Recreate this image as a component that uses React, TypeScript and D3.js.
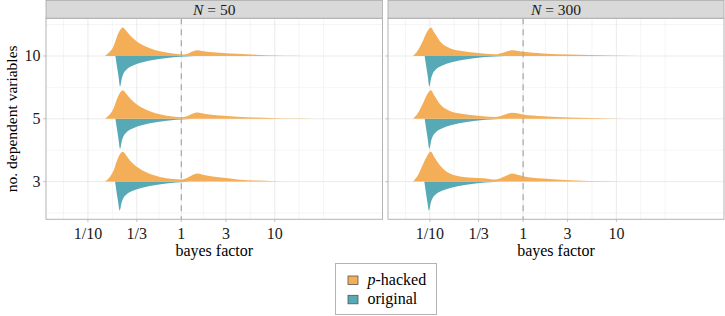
import React from "react";
import * as d3 from "d3";

// ---------- data ----------
const panels = ["50", "300"];
const levels = ["3", "5", "10"]; // bottom -> top
const xTickValues = [0.1, 1 / 3, 1, 3, 10];
const xTickLabels = ["1/10", "1/3", "1", "3", "10"];
const groups = ["p-hacked", "original"];

// density curves: [log10(bayes factor), density]
const n50_dv10_phacked: [number, number][] = [[-0.82,0],[-0.77,0.4],[-0.73,0.9],[-0.69,1.9],[-0.655,2.6],[-0.625,2.84],[-0.59,2.5],[-0.55,2.07],[-0.48,1.47],[-0.37,0.9],[-0.23,0.47],[-0.09,0.24],[0,0.15],[0.06,0.2],[0.12,0.45],[0.17,0.57],[0.22,0.5],[0.3,0.4],[0.45,0.3],[0.6,0.22],[0.8,0.13],[1.0,0.06],[1.2,0.03],[1.4,0]];
const n50_dv10_original: [number, number][] = [[-0.706,0],[-0.69,1.0],[-0.673,2.0],[-0.656,3.03],[-0.636,2.2],[-0.616,1.7],[-0.586,1.35],[-0.516,0.95],[-0.426,0.65],[-0.336,0.45],[-0.236,0.3],[-0.156,0.2],[-0.056,0.1],[0.044,0.04],[0.14,0]];
const n50_dv5_phacked: [number, number][] = [[-0.82,0],[-0.77,0.4],[-0.73,0.95],[-0.69,1.95],[-0.655,2.62],[-0.625,2.85],[-0.59,2.5],[-0.55,2.05],[-0.48,1.45],[-0.37,0.88],[-0.23,0.45],[-0.09,0.22],[0,0.16],[0.06,0.25],[0.12,0.5],[0.17,0.62],[0.22,0.55],[0.3,0.42],[0.45,0.3],[0.6,0.2],[0.8,0.12],[1.0,0.06],[1.2,0.02],[1.4,0]];
const n50_dv5_original: [number, number][] = [[-0.706,0],[-0.69,1.0],[-0.673,2.0],[-0.656,2.98],[-0.636,2.15],[-0.616,1.68],[-0.586,1.33],[-0.516,0.94],[-0.426,0.64],[-0.336,0.44],[-0.236,0.29],[-0.156,0.19],[-0.056,0.1],[0.044,0.04],[0.14,0]];
const n50_dv3_phacked: [number, number][] = [[-0.82,0],[-0.77,0.42],[-0.73,1.0],[-0.69,2.05],[-0.655,2.75],[-0.625,2.96],[-0.59,2.6],[-0.55,2.1],[-0.48,1.5],[-0.37,0.9],[-0.23,0.47],[-0.09,0.25],[0,0.2],[0.06,0.35],[0.12,0.65],[0.17,0.8],[0.22,0.72],[0.3,0.55],[0.45,0.38],[0.6,0.22],[0.8,0.1],[1.0,0.04],[1.2,0.01],[1.35,0]];
const n50_dv3_original: [number, number][] = [[-0.71,0],[-0.694,1.0],[-0.677,2.0],[-0.66,2.87],[-0.64,2.1],[-0.62,1.62],[-0.59,1.3],[-0.52,0.92],[-0.43,0.63],[-0.34,0.43],[-0.24,0.28],[-0.16,0.18],[-0.06,0.09],[0.04,0.03],[0.14,0]];

const n300_dv10_phacked: [number, number][] = [[-1.18,0],[-1.13,0.55],[-1.07,1.6],[-1.03,2.4],[-0.99,2.84],[-0.95,2.3],[-0.89,1.45],[-0.785,0.78],[-0.64,0.47],[-0.43,0.26],[-0.3,0.17],[-0.2,0.38],[-0.12,0.57],[-0.05,0.5],[0,0.42],[0.21,0.26],[0.5,0.14],[0.93,0.04],[1.25,0]];
const n300_dv10_original: [number, number][] = [[-1.056,0],[-1.04,1.0],[-1.023,2.0],[-1.006,3.03],[-0.986,2.2],[-0.966,1.7],[-0.936,1.35],[-0.866,0.95],[-0.776,0.65],[-0.686,0.45],[-0.586,0.3],[-0.506,0.2],[-0.406,0.1],[-0.306,0.04],[-0.2,0]];
const n300_dv5_phacked: [number, number][] = [[-1.18,0],[-1.13,0.55],[-1.07,1.62],[-1.03,2.42],[-0.99,2.85],[-0.95,2.3],[-0.89,1.45],[-0.785,0.78],[-0.64,0.47],[-0.43,0.26],[-0.3,0.18],[-0.2,0.4],[-0.12,0.6],[-0.05,0.52],[0,0.43],[0.21,0.26],[0.5,0.14],[0.93,0.04],[1.25,0]];
const n300_dv5_original: [number, number][] = [[-1.056,0],[-1.04,1.0],[-1.023,2.0],[-1.006,2.98],[-0.986,2.15],[-0.966,1.68],[-0.936,1.33],[-0.866,0.94],[-0.776,0.64],[-0.686,0.44],[-0.586,0.29],[-0.506,0.19],[-0.406,0.1],[-0.306,0.04],[-0.2,0]];
const n300_dv3_phacked: [number, number][] = [[-1.18,0],[-1.13,0.6],[-1.07,1.8],[-1.03,2.55],[-0.99,2.96],[-0.95,2.4],[-0.89,1.6],[-0.785,0.8],[-0.64,0.46],[-0.43,0.33],[-0.3,0.2],[-0.2,0.5],[-0.12,0.8],[-0.05,0.65],[0,0.53],[0.21,0.3],[0.5,0.14],[0.93,0.03],[1.2,0]];
const n300_dv3_original: [number, number][] = [[-1.06,0],[-1.044,1.0],[-1.027,2.0],[-1.01,2.87],[-0.99,2.1],[-0.97,1.62],[-0.94,1.3],[-0.87,0.92],[-0.78,0.63],[-0.69,0.43],[-0.59,0.28],[-0.51,0.18],[-0.41,0.09],[-0.31,0.03],[-0.2,0]];

const curves: Record<string, Record<string, [[number, number][], [number, number][]]>> = {
  "50": { "10": [n50_dv10_phacked, n50_dv10_original], "5": [n50_dv5_phacked, n50_dv5_original], "3": [n50_dv3_phacked, n50_dv3_original] },
  "300": { "10": [n300_dv10_phacked, n300_dv10_original], "5": [n300_dv5_phacked, n300_dv5_original], "3": [n300_dv3_phacked, n300_dv3_original] },
};

// ---------- layout ----------
const W = 725, H = 316;
const FONT = "'Liberation Serif', 'Times New Roman', Times, serif";
const COL_P = "#F4AE58";
const COL_O = "#58A9B6";
const panelTop = 18.3, panelBottom = 219.3;
const panelBoxes = [{ x0: 46, x1: 382.5 }, { x0: 388, x1: 724 }];
const logMin = -1.449, logMax = 2.154;

export default function App() {
  const y = d3.scaleLinear().domain([0.4, 3.6]).range([panelBottom, panelTop]);
  const unit = y(0) - y(1);
  const dens = d3.scaleLinear().domain([0, 3]).range([0, 0.48 * unit]);
  const majorLog = xTickValues.map((v) => Math.log10(v));
  // minor breaks like ggplot regular_minor_breaks
  const bd = majorLog[1] - majorLog[0];
  const ext = [majorLog[0] - bd, ...majorLog, majorLog[majorLog.length - 1] + bd];
  const minorLog: number[] = [];
  for (let i = 0; i < ext.length - 1; i++) minorLog.push((ext[i] + ext[i + 1]) / 2);
  minorLog.push(ext[ext.length - 1]);

  return (
    <svg width={W} height={H} style={{ display: "block", position: "absolute", left: 0, top: 0, fontFamily: FONT }}>
      <rect x={0} y={0} width={W} height={H} fill="#fff" />
      {panels.map((p, pi) => {
        const box = panelBoxes[pi];
        const x = d3.scaleLinear().domain([logMin, logMax]).range([box.x0, box.x1]);
        const cx = (box.x0 + box.x1) / 2;
        return (
          <g key={p}>
            {/* strip */}
            <rect x={box.x0} y={0.5} width={box.x1 - box.x0} height={panelTop - 0.5} fill="#d9d9d9" stroke="#a8a8a8" strokeWidth={0.8} />
            <text x={cx} y={14.6} textAnchor="middle" fontSize={15.5} fill="#1a1a1a">
              <tspan fontStyle="italic">N</tspan> = {p}
            </text>
            {/* gridlines */}
            {minorLog.filter((v) => v > logMin && v < logMax && !majorLog.some((m) => Math.abs(m - v) < 1e-6)).map((v, i) => (
              <line key={"mx" + i} x1={x(v)} x2={x(v)} y1={panelTop} y2={panelBottom} stroke="#efefef" strokeWidth={0.6} />
            ))}
            {[0.5, 1.5, 2.5, 3.5].map((v, i) => (
              <line key={"my" + i} x1={box.x0} x2={box.x1} y1={y(v)} y2={y(v)} stroke="#efefef" strokeWidth={0.6} />
            ))}
            {majorLog.map((v, i) => (
              <line key={"Mx" + i} x1={x(v)} x2={x(v)} y1={panelTop} y2={panelBottom} stroke="#e6e6e6" strokeWidth={0.8} />
            ))}
            {levels.map((l, i) => (
              <line key={"My" + i} x1={box.x0} x2={box.x1} y1={y(i + 1)} y2={y(i + 1)} stroke="#e6e6e6" strokeWidth={0.8} />
            ))}
            {/* densities */}
            {levels.map((l, i) => {
              const base = y(i + 1);
              const [ph, og] = curves[p][l];
              const upper = d3.area<[number, number]>().x((d) => x(d[0])).y0(base).y1((d) => base - dens(d[1])).curve(d3.curveMonotoneX);
              const lower = d3.area<[number, number]>().x((d) => x(d[0])).y0(base).y1((d) => base + dens(d[1])).curve(d3.curveMonotoneX);
              return (
                <g key={l}>
                  <path d={lower(og) || ""} fill={COL_O} />
                  <path d={upper(ph) || ""} fill={COL_P} />
                </g>
              );
            })}
            {/* dashed line at BF = 1 */}
            <line x1={x(0)} x2={x(0)} y1={panelTop} y2={panelBottom} stroke="#acacac" strokeWidth={1.3} strokeDasharray="6,5" />
            {/* border */}
            <rect x={box.x0} y={panelTop} width={box.x1 - box.x0} height={panelBottom - panelTop} fill="none" stroke="#b3b3b3" strokeWidth={1} />
            {/* y ticks */}
            {levels.map((l, i) => (
              <line key={"yt" + i} x1={box.x0 - 2.75} x2={box.x0} y1={y(i + 1)} y2={y(i + 1)} stroke="#b3b3b3" strokeWidth={0.8} />
            ))}
            {/* x ticks */}
            {majorLog.map((v, i) => (
              <g key={"xt" + i}>
                <line x1={x(v)} x2={x(v)} y1={panelBottom} y2={panelBottom + 2.75} stroke="#b3b3b3" strokeWidth={0.8} />
                <text x={x(v)} y={239} textAnchor="middle" fontSize={16} fill="#1a1a1a">{xTickLabels[i]}</text>
              </g>
            ))}
            <text x={cx} y={256} textAnchor="middle" fontSize={16} fill="#000">bayes factor</text>
          </g>
        );
      })}
      {/* y tick labels (left panel only) */}
      {levels.map((l, i) => (
        <text key={"yl" + i} x={40.5} y={y(i + 1) + 5.3} textAnchor="end" fontSize={16} fill="#1a1a1a">{l}</text>
      ))}
      <text transform={`translate(16.5, ${(panelTop + panelBottom) / 2}) rotate(-90)`} textAnchor="middle" fontSize={15.5} fill="#000">no. dependent variables</text>
      {/* legend */}
      <g>
        <rect x={335.5} y={263.5} width={101} height={51} fill="#fff" stroke="#b3b3b3" strokeWidth={1} />
        {groups.map((g, i) => (
          <g key={g}>
            <rect x={348} y={276 + i * 19.3} width={10} height={8.5} fill={i === 0 ? COL_P : COL_O} stroke="#555" strokeWidth={0.8} />
            <text x={367.5} y={284.5 + i * 19.3} fontSize={16} fill="#000">
              {i === 0 ? (<><tspan fontStyle="italic">p</tspan>-hacked</>) : "original"}
            </text>
          </g>
        ))}
      </g>
    </svg>
  );
}
